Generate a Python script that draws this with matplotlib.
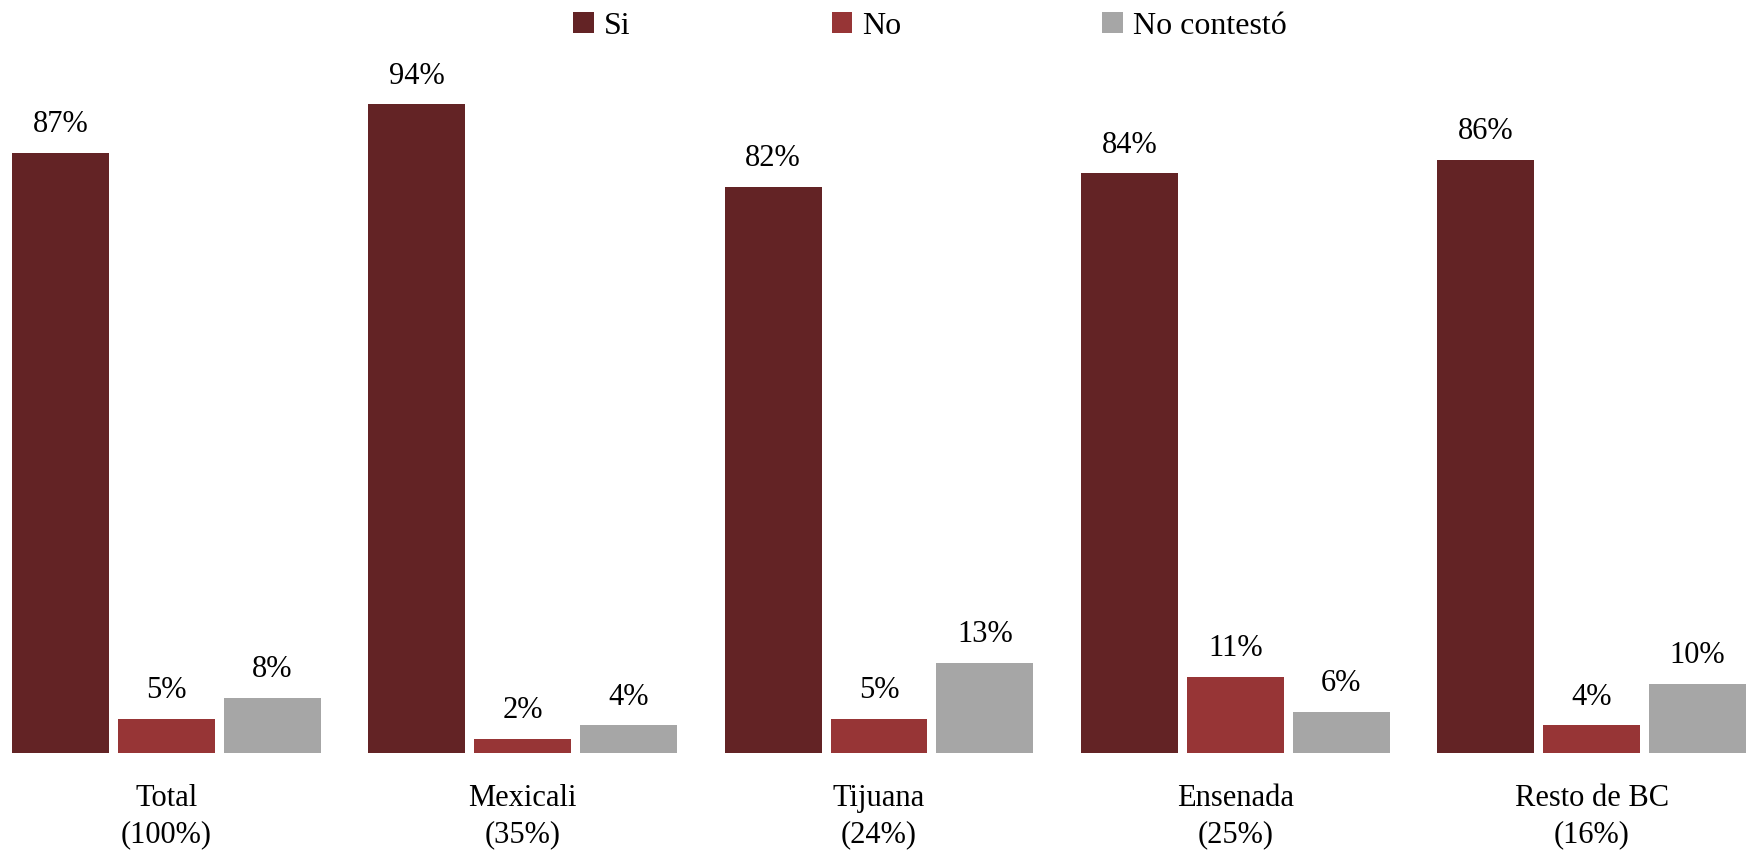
import matplotlib
matplotlib.use("Agg")
import matplotlib.pyplot as plt
import numpy as np

categories = ["Total\n(100%)", "Mexicali\n(35%)", "Tijuana\n(24%)", "Ensenada\n(25%)", "Resto de BC\n(16%)"]
si = [87, 94, 82, 84, 86]
no = [5, 2, 5, 11, 4]
no_contesto = [8, 4, 13, 6, 10]
series_names = ["Si", "No", "No contestó"]
colors = ["#632325", "#973536", "#A6A6A6"]

plt.rcParams["font.family"] = ["Liberation Serif", "DejaVu Serif"]

fig = plt.figure(figsize=(17.52, 8.51), dpi=100)
W, H = 1752, 851
# ejes colocados en pixeles
ax = fig.add_axes([12 / W, 98 / H, 1734 / W, 690 / H])

x = np.arange(len(categories))
step = 0.297
width = 0.272
for i, (vals, name, c) in enumerate(zip([si, no, no_contesto], series_names, colors)):
    pos = x + (i - 1) * step
    bars = ax.bar(pos, vals, width, color=c, label=name)
    for b, v in zip(bars, vals):
        ax.text(b.get_x() + b.get_width() / 2, v + 2.0, f"{v}%",
                ha="center", va="bottom", fontsize=22)

ax.set_xlim(-step - width / 2, len(categories) - 1 + step + width / 2)
ax.set_ylim(0, 100)
ax.set_xticks(x)
ax.set_xticklabels(categories, fontsize=22, linespacing=1.35)
ax.tick_params(axis="x", length=0, pad=22)
ax.set_yticks([])
for s in ax.spines.values():
    s.set_visible(False)

fig.legend(loc="upper center", bbox_to_anchor=(930 / W, 1.02), ncol=3, frameon=False,
           fontsize=23, handlelength=0.65, handleheight=0.65, handletextpad=0.3,
           columnspacing=6.3)

fig.savefig("out.png", dpi=100)
